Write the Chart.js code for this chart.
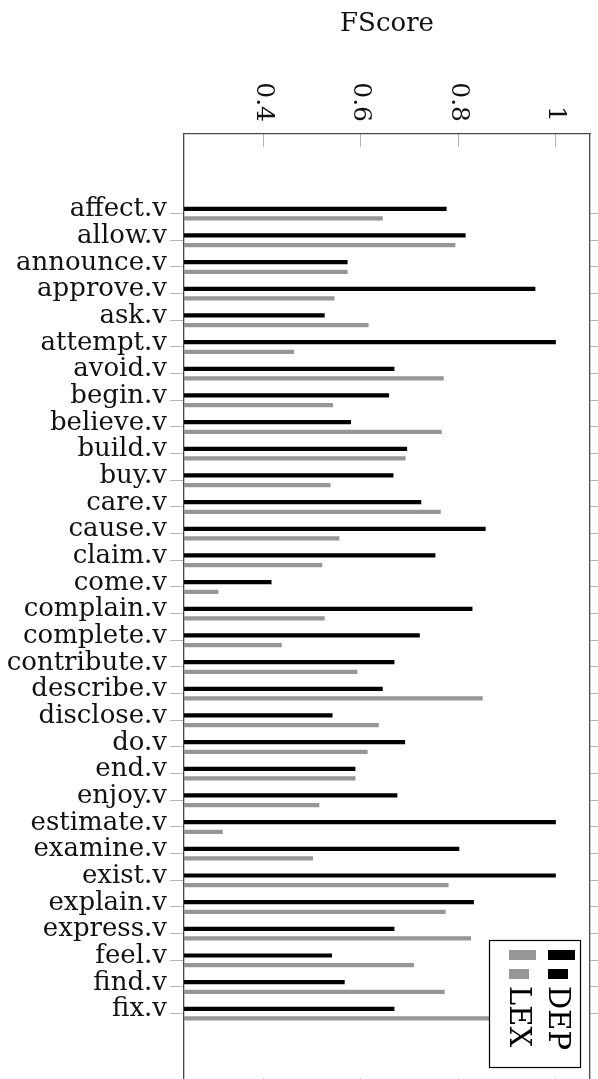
<!DOCTYPE html>
<html>
<head>
<meta charset="utf-8">
<script src="https://cdn.jsdelivr.net/npm/chart.js@4"></script>
<style>
  html, body { margin: 0; padding: 0; background: #fff; overflow: hidden; }
  #wrap { position: relative; width: 598px; height: 1107px; }
</style>
</head>
<body>
<div id="wrap"><canvas id="fscore"></canvas></div>
<script>
const verbs = [
  'affect.v', 'allow.v', 'announce.v', 'approve.v', 'ask.v', 'attempt.v',
  'avoid.v', 'begin.v', 'believe.v', 'build.v', 'buy.v', 'care.v', 'cause.v',
  'claim.v', 'come.v', 'complain.v', 'complete.v', 'contribute.v',
  'describe.v', 'disclose.v', 'do.v', 'end.v', 'enjoy.v', 'estimate.v',
  'examine.v', 'exist.v', 'explain.v', 'express.v', 'feel.v', 'find.v', 'fix.v'
];
const depScores = [
  0.776, 0.815, 0.573, 0.958, 0.526, 1.0, 0.669, 0.658, 0.580, 0.695, 0.667,
  0.724, 0.856, 0.753, 0.417, 0.829, 0.721, 0.669, 0.645, 0.542, 0.691, 0.589,
  0.675, 1.0, 0.802, 1.0, 0.832, 0.669, 0.541, 0.567, 0.669
];
const lexScores = [
  0.645, 0.794, 0.573, 0.546, 0.616, 0.463, 0.770, 0.543, 0.766, 0.692, 0.538,
  0.764, 0.556, 0.521, 0.308, 0.526, 0.438, 0.593, 0.850, 0.637, 0.614, 0.589,
  0.515, 0.317, 0.502, 0.780, 0.774, 0.826, 0.709, 0.772, 0.88
];
const xTicks = [0.4, 0.6, 0.8, 1];
const xTickLabels = ['0.4', '0.6', '0.8', '1'];

const X_MIN = 0.2375, X_MAX = 1.07;
const Y_MIN = -2.985, Y_MAX = 32.9;
const serif = 'DejaVu Serif';
const frame = { color: '#4a4a4a', width: 1.3 };
const tickGray = '#b4b4b4';

const catTicks = axis => { axis.ticks = verbs.map((v, i) => ({ value: i })); };
const valTicks = axis => { axis.ticks = xTicks.map(v => ({ value: v })); };

// rotated tick labels on the top axis
const topLabels = {
  id: 'topLabels',
  afterDraw(chart) {
    const { ctx } = chart;
    const xs = chart.scales.x;
    ctx.save();
    ctx.fillStyle = '#111';
    ctx.font = '25px "' + serif + '"';
    ctx.textAlign = 'right';
    ctx.textBaseline = 'middle';
    xs.ticks.forEach((t, i) => {
      ctx.save();
      ctx.translate(xs.getPixelForValue(t.value), 122);
      ctx.rotate(Math.PI / 2);
      ctx.fillText(xTickLabels[i], 0, 0);
      ctx.restore();
    });
    ctx.restore();
  }
};

// boxed legend with rotated names
const boxLegend = {
  id: 'boxLegend',
  afterDraw(chart) {
    const { ctx } = chart;
    const ds = chart.data.datasets;
    const bx = 489, by = 940, bw = 92, bh = 128;
    ctx.save();
    ctx.fillStyle = '#fff';
    ctx.fillRect(bx, by, bw, bh);
    ctx.strokeStyle = '#000';
    ctx.lineWidth = 1.2;
    ctx.strokeRect(bx + 0.5, by + 0.5, bw - 1, bh - 1);
    // column per dataset, LEX left, DEP right
    const cols = [{ d: ds[1], x: 509, cx: 518 }, { d: ds[0], x: 548, cx: 557 }];
    cols.forEach(c => {
      ctx.fillStyle = c.d.backgroundColor;
      ctx.fillRect(c.x, 950, 27, 10);
      ctx.fillRect(c.x, 969, 20, 10);
      ctx.fillStyle = '#000';
      ctx.font = '29px "' + serif + '"';
      ctx.textAlign = 'left';
      ctx.textBaseline = 'middle';
      ctx.save();
      ctx.translate(c.cx, 986);
      ctx.rotate(Math.PI / 2);
      ctx.fillText(c.d.label, 0, 0);
      ctx.restore();
    });
    ctx.restore();
  }
};

new Chart(document.getElementById('fscore'), {
  type: 'bar',
  data: {
    datasets: [
      {
        label: 'DEP',
        data: depScores.map((v, i) => ({ x: v, y: i })),
        backgroundColor: '#000000',
        borderWidth: 0,
        base: X_MIN
      },
      {
        label: 'LEX',
        data: lexScores.map((v, i) => ({ x: v, y: i })),
        backgroundColor: '#969696',
        borderWidth: 0,
        base: X_MIN
      }
    ]
  },
  options: {
    indexAxis: 'y',
    responsive: true,
    maintainAspectRatio: false,
    animation: false,
    categoryPercentage: 0.723,
    barPercentage: 0.44,
    layout: { padding: { top: 0, right: 0, bottom: 8, left: 0 } },
    plugins: {
      legend: { display: false },
      tooltip: { enabled: false }
    },
    scales: {
      x: {
        type: 'linear',
        position: 'top',
        min: X_MIN,
        max: X_MAX,
        afterBuildTicks: valTicks,
        afterFit: s => { s.height = 134; },
        ticks: { display: false },
        grid: { drawOnChartArea: false, tickLength: -13, color: tickGray, lineWidth: 1 },
        border: { display: true, color: frame.color, width: frame.width },
        title: {
          display: true,
          text: 'FScore',
          color: '#111',
          font: { family: serif, size: 26 },
          padding: { top: 9, bottom: 0 }
        }
      },
      x2: {
        type: 'linear',
        position: 'bottom',
        min: X_MIN,
        max: X_MAX,
        afterBuildTicks: valTicks,
        afterFit: s => { s.height = 0; },
        ticks: { display: false },
        grid: { drawOnChartArea: false, tickLength: -13, color: tickGray, lineWidth: 1 },
        border: { display: true, color: frame.color, width: frame.width }
      },
      y: {
        type: 'linear',
        position: 'left',
        reverse: true,
        offset: false,
        min: Y_MIN,
        max: Y_MAX,
        afterBuildTicks: catTicks,
        afterFit: s => { s.width = 184; },
        ticks: {
          autoSkip: false,
          padding: 3,
          labelOffset: -4,
          color: '#111',
          font: { family: serif, size: 26, lineHeight: 1 },
          callback: v => verbs[v]
        },
        grid: { drawOnChartArea: false, offset: false, tickLength: 14, color: tickGray, lineWidth: 1 },
        border: { display: true, color: frame.color, width: frame.width }
      },
      y2: {
        type: 'linear',
        position: 'right',
        reverse: true,
        offset: false,
        min: Y_MIN,
        max: Y_MAX,
        afterBuildTicks: catTicks,
        afterFit: s => { s.width = 8; },
        ticks: { display: false },
        grid: { drawOnChartArea: false, offset: false, tickLength: 10, color: tickGray, lineWidth: 1 },
        border: { display: true, color: frame.color, width: frame.width }
      }
    }
  },
  plugins: [topLabels, boxLegend]
});
</script>
</body>
</html>
